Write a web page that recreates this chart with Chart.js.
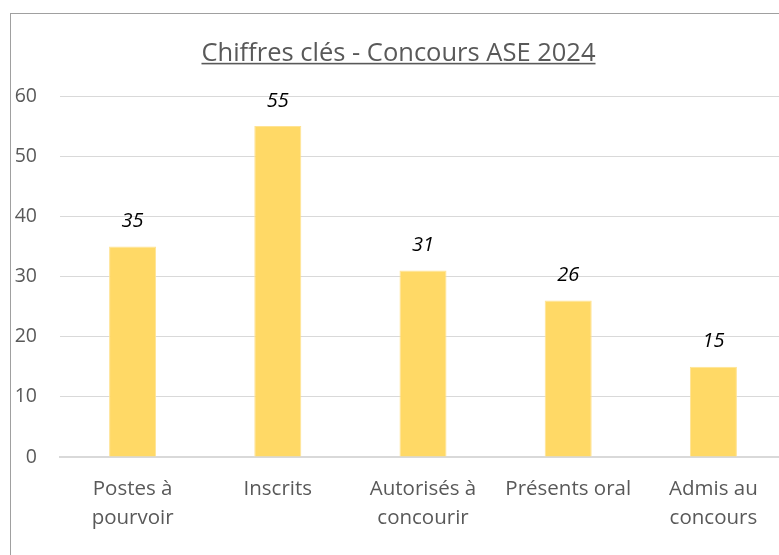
<!DOCTYPE html>
<html>
<head>
<meta charset="utf-8">
<script src="https://cdn.jsdelivr.net/npm/chart.js@4"></script>
<style>
  html, body { margin: 0; padding: 0; width: 779px; height: 555px; overflow: hidden; background: #fff; }
  #frame { position: absolute; left: 10px; top: 13px; width: 776px; height: 600px; border: 1px solid #a0a0a0; }
  #chart { display: block; }
</style>
</head>
<body>
<div id="frame"><canvas id="chart" width="776" height="600"></canvas></div>
<script>
const titleText = 'Chiffres clés - Concours ASE 2024';
const categories = [['Postes à', 'pourvoir'], 'Inscrits', ['Autorisés à', 'concourir'], 'Présents oral', ['Admis au', 'concours']];
const values = [35, 55, 31, 26, 15];
const yMin = 0;
const yMax = 60;
const yStep = 10;

const TITLE_SIZE = 25.5;
const grey = '#595959';

// value labels above each bar (no datalabels plugin available)
const valueLabels = {
  id: 'valueLabels',
  afterDatasetsDraw(chart) {
    const ctx = chart.ctx;
    const meta = chart.getDatasetMeta(0);
    ctx.save();
    ctx.font = 'italic 20px "Open Sans"';
    ctx.fillStyle = '#000';
    ctx.textAlign = 'center';
    ctx.textBaseline = 'alphabetic';
    meta.data.forEach((bar, i) => {
      ctx.fillText(String(values[i]), bar.x, bar.y - 19.5);
    });
    ctx.restore();
  }
};

// underline under the title
const titleUnderline = {
  id: 'titleUnderline',
  afterDraw(chart) {
    const tb = chart.titleBlock;
    if (!tb) return;
    const ctx = chart.ctx;
    ctx.save();
    ctx.font = TITLE_SIZE + 'px "Open Sans"';
    const w = ctx.measureText(titleText).width;
    const cx = (tb.left + tb.right) / 2;
    const cy = tb.top + tb._padding.top + TITLE_SIZE * 1.2 / 2;
    ctx.fillStyle = grey;
    ctx.fillRect(cx - w / 2, cy + 9.5, w, 1.6);
    ctx.restore();
  }
};

new Chart(document.getElementById('chart').getContext('2d'), {
  type: 'bar',
  data: {
    labels: categories,
    datasets: [{
      data: values,
      backgroundColor: '#FFD966',
      borderColor: '#FFE393',
      borderWidth: 1,
      barPercentage: 0.324,
      categoryPercentage: 1
    }]
  },
  options: {
    responsive: false,
    animation: false,
    layout: { padding: { left: 0, right: 1, top: 0, bottom: 0 } },
    plugins: {
      legend: { display: false },
      tooltip: { enabled: false },
      title: {
        display: true,
        text: titleText,
        color: grey,
        font: { family: 'Open Sans', size: TITLE_SIZE, weight: 'normal' },
        padding: { top: 24, bottom: 27.4 }
      }
    },
    scales: {
      x: {
        grid: { display: false, drawTicks: false },
        border: { color: '#D9D9D9', width: 2 },
        ticks: {
          color: grey,
          font: { family: 'Open Sans', size: 20.5, lineHeight: 1.4 },
          padding: 18,
          maxRotation: 0,
          autoSkip: false
        },
        afterFit(scale) { scale.height = 157; }
      },
      y: {
        min: yMin,
        max: yMax,
        grid: { color: '#D9D9D9', lineWidth: 1, drawTicks: false },
        border: { display: false },
        ticks: {
          stepSize: yStep,
          color: grey,
          font: { family: 'Open Sans', size: 19.5 },
          padding: 23
        },
        afterFit(scale) { scale.width = 49; }
      }
    }
  },
  plugins: [valueLabels, titleUnderline]
});
</script>
</body>
</html>
